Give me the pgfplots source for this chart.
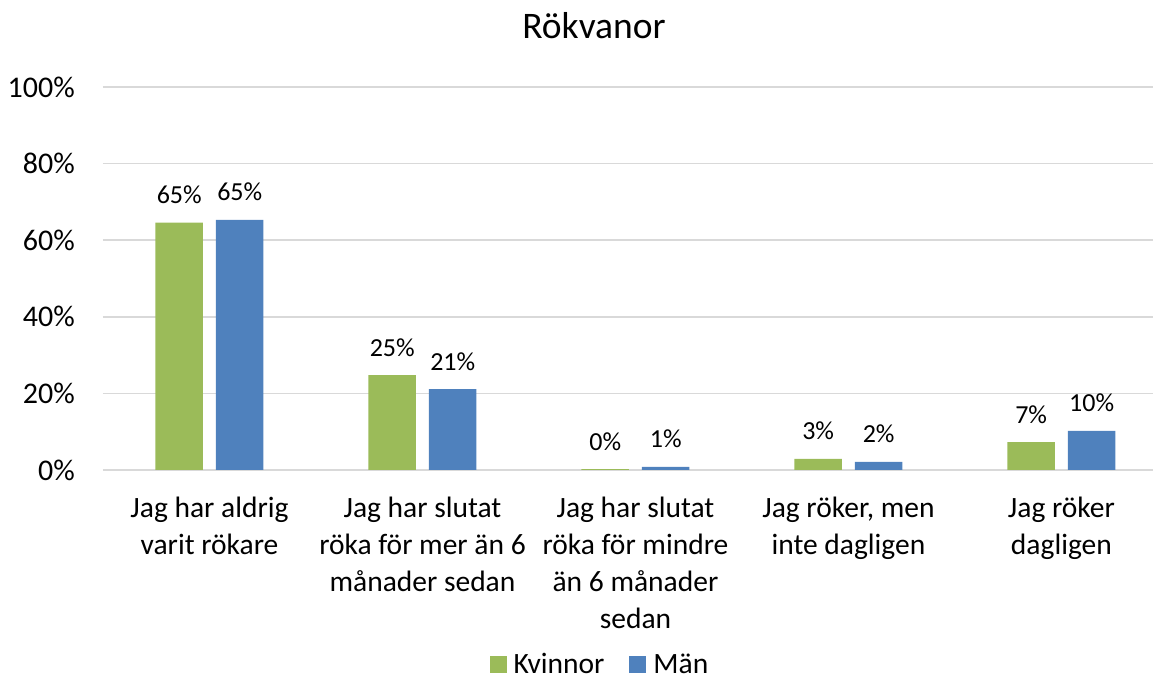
\documentclass[border=0pt]{standalone}
\usepackage{fontspec}
\setmainfont{Carlito}
\usepackage{pgfplots}
\pgfplotsset{compat=1.18}
\definecolor{kgreen}{HTML}{9BBB59}
\definecolor{mblue}{HTML}{4F81BD}
\definecolor{gridc}{HTML}{D9D9D9}
\begin{document}
\begin{tikzpicture}
\path[use as bounding box] (-103pt,-214pt) rectangle (1050pt,470pt);
\begin{axis}[
  at={(0,0)}, anchor=south west, scale only axis,
  width=1050pt, height=383pt,
  xmin=-0.5, xmax=4.43, ymin=0, ymax=100,
  ybar=13pt, bar width=47.5pt,
  axis line style={draw=none},
  tick style={draw=none}, major tick length=0pt,
  ymajorgrids, grid style={gridc, line width=1.6pt},
  ytick={0,20,40,60,80,100},
  yticklabels={0\%,20\%,40\%,60\%,80\%,100\%},
  yticklabel style={font=\fontsize{30}{34}\selectfont, anchor=east, inner sep=0pt, xshift=-28pt},
  xtick={0,1,2,3,4},
  xticklabels={{Jag har aldrig\\varit rökare},{Jag har slutat\\röka för mer än 6\\månader sedan},{Jag har slutat\\röka för mindre\\än 6 månader\\sedan},{Jag röker, men\\inte dagligen},{Jag röker\\dagligen}},
  xticklabel style={font=\fontsize{29.5}{37}\selectfont, align=center, anchor=north, inner sep=0pt, yshift=-27pt},
  title={Rökvanor},
  title style={font=\fontsize{37.5}{42}\selectfont, at={(axis description cs:0.4676,1)}, anchor=base, inner sep=0pt, yshift=42pt},
  point meta=explicit symbolic,
  nodes near coords={\pgfplotspointmeta\%},
  every node near coord/.append style={font=\fontsize{26}{30}\selectfont, anchor=base, inner sep=0pt, yshift=19pt, text=black},
  legend style={at={(axis description cs:0.4733,-0.508)}, anchor=center, draw=none, font=\fontsize{29.5}{34}\selectfont, legend columns=2, /tikz/every even column/.append style={column sep=23pt}},
  legend cell align=left,
  legend image code/.code={\fill[#1] (0pt,-8pt) rectangle (17pt,9pt); \path (22pt,0pt);},
  clip=false,
]
\addplot[fill=kgreen, draw=none] coordinates {(0,64.6)[65] (1,24.8)[25] (2,0.2)[0] (3,2.9)[3] (4,7.3)[7]};
\addlegendentry{Kvinnor}
\addplot[fill=mblue, draw=none] coordinates {(0,65.3)[65] (1,21.1)[21] (2,0.8)[1] (3,2.1)[2] (4,10.2)[10]};
\addlegendentry{Män}
\end{axis}
\end{tikzpicture}
\end{document}
